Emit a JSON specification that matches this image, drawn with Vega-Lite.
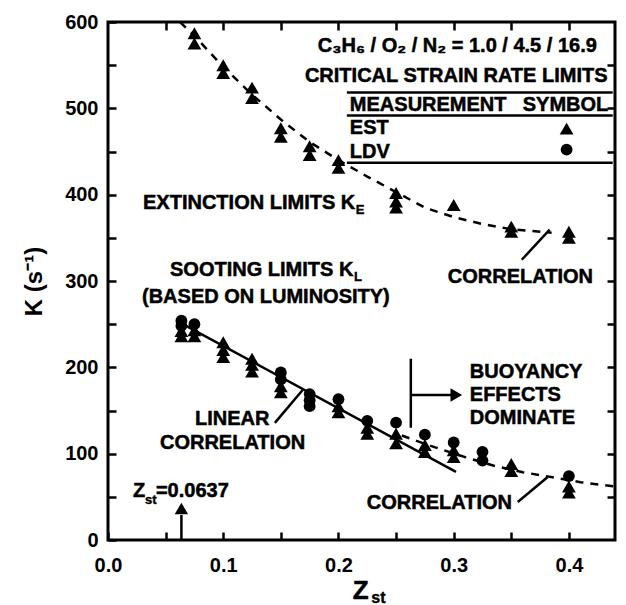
{
  "$schema": "https://vega.github.io/schema/vega-lite/v6.json",
  "width": 507,
  "height": 518,
  "autosize": {"type": "none"},
  "padding": {"left": 108, "top": 22, "right": 11, "bottom": 65},
  "background": "white",
  "config": {
    "view": {"stroke": "black", "strokeWidth": 3},
    "font": "Liberation Sans",
    "axis": {
      "labelFont": "Liberation Sans", "labelFontWeight": "bold", "labelFontSize": 20, "labelColor": "black",
      "domain": false, "grid": false, "tickColor": "black", "tickWidth": 2.5, "tickSize": -8,
      "titleFont": "Liberation Sans", "titleFontWeight": "bold", "titleColor": "black",
      "labelFlush": false, "labelOverlap": false
    },
    "text": {"font": "Liberation Sans", "fontWeight": "bold", "fontSize": 20, "color": "black"}
  },
  "datasets": {
    "markers": [
      {"z": 0.075, "K": 587, "meas": "EST"}, {"z": 0.075, "K": 575, "meas": "EST"},
      {"z": 0.1, "K": 550, "meas": "EST"}, {"z": 0.1, "K": 541, "meas": "EST"},
      {"z": 0.125, "K": 524, "meas": "EST"}, {"z": 0.125, "K": 512, "meas": "EST"},
      {"z": 0.15, "K": 477, "meas": "EST"}, {"z": 0.15, "K": 467, "meas": "EST"},
      {"z": 0.175, "K": 456, "meas": "EST"}, {"z": 0.175, "K": 446, "meas": "EST"},
      {"z": 0.2, "K": 440, "meas": "EST"}, {"z": 0.2, "K": 431, "meas": "EST"},
      {"z": 0.25, "K": 402, "meas": "EST"}, {"z": 0.25, "K": 392, "meas": "EST"}, {"z": 0.25, "K": 385, "meas": "EST"},
      {"z": 0.3, "K": 388, "meas": "EST"},
      {"z": 0.35, "K": 363, "meas": "EST"}, {"z": 0.35, "K": 357, "meas": "EST"},
      {"z": 0.4, "K": 357, "meas": "EST"}, {"z": 0.4, "K": 350, "meas": "EST"},
      {"z": 0.0637, "K": 254, "meas": "LDV"}, {"z": 0.0637, "K": 248, "meas": "LDV"}, {"z": 0.0637, "K": 242, "meas": "EST"}, {"z": 0.0637, "K": 236, "meas": "EST"},
      {"z": 0.075, "K": 250, "meas": "LDV"}, {"z": 0.075, "K": 243, "meas": "EST"}, {"z": 0.075, "K": 236, "meas": "EST"},
      {"z": 0.1, "K": 229, "meas": "EST"}, {"z": 0.1, "K": 220, "meas": "EST"}, {"z": 0.1, "K": 212, "meas": "EST"},
      {"z": 0.125, "K": 210, "meas": "EST"}, {"z": 0.125, "K": 203, "meas": "EST"}, {"z": 0.125, "K": 195, "meas": "EST"},
      {"z": 0.15, "K": 194, "meas": "LDV"}, {"z": 0.15, "K": 186, "meas": "LDV"}, {"z": 0.15, "K": 178, "meas": "EST"}, {"z": 0.15, "K": 171, "meas": "EST"},
      {"z": 0.175, "K": 169, "meas": "LDV"}, {"z": 0.175, "K": 162, "meas": "LDV"}, {"z": 0.175, "K": 155, "meas": "LDV"},
      {"z": 0.2, "K": 163, "meas": "LDV"}, {"z": 0.2, "K": 155, "meas": "EST"}, {"z": 0.2, "K": 148, "meas": "EST"},
      {"z": 0.225, "K": 138, "meas": "LDV"}, {"z": 0.225, "K": 130, "meas": "EST"}, {"z": 0.225, "K": 123, "meas": "EST"},
      {"z": 0.25, "K": 136, "meas": "LDV"}, {"z": 0.25, "K": 123, "meas": "EST"}, {"z": 0.25, "K": 112, "meas": "EST"},
      {"z": 0.275, "K": 122, "meas": "LDV"}, {"z": 0.275, "K": 110, "meas": "EST"}, {"z": 0.275, "K": 102, "meas": "EST"},
      {"z": 0.3, "K": 113, "meas": "LDV"}, {"z": 0.3, "K": 104, "meas": "EST"}, {"z": 0.3, "K": 96, "meas": "EST"},
      {"z": 0.325, "K": 102, "meas": "LDV"}, {"z": 0.325, "K": 92, "meas": "LDV"},
      {"z": 0.35, "K": 88, "meas": "EST"}, {"z": 0.35, "K": 80, "meas": "EST"},
      {"z": 0.4, "K": 74, "meas": "LDV"}, {"z": 0.4, "K": 62, "meas": "EST"}, {"z": 0.4, "K": 55, "meas": "EST"},
      {"z": 0.398, "K": 476.5, "meas": "EST"}, {"z": 0.398, "K": 452.2, "meas": "LDV"}
    ],
    "curveE": [
      {"z": 0.0625, "K": 600}, {"z": 0.075, "K": 584}, {"z": 0.1, "K": 548}, {"z": 0.125, "K": 516},
      {"z": 0.15, "K": 487}, {"z": 0.175, "K": 461}, {"z": 0.2, "K": 440}, {"z": 0.225, "K": 421},
      {"z": 0.25, "K": 403}, {"z": 0.275, "K": 385}, {"z": 0.3, "K": 374}, {"z": 0.325, "K": 366},
      {"z": 0.35, "K": 360}, {"z": 0.385, "K": 356}
    ],
    "curveS": [
      {"z": 0.255, "K": 121}, {"z": 0.28, "K": 109}, {"z": 0.31, "K": 96}, {"z": 0.335, "K": 86},
      {"z": 0.36, "K": 78.5}, {"z": 0.38, "K": 74}, {"z": 0.41, "K": 67}, {"z": 0.44, "K": 62}
    ],
    "linear": [{"z": 0.0637, "K": 251}, {"z": 0.302, "K": 79}],
    "rules": [
      {"z": 0.1448, "K": 135.7, "z2": 0.1691, "K2": 174},
      {"z": 0.3591, "K": 324.6, "z2": 0.3833, "K2": 359.4},
      {"z": 0.3556, "K": 44, "z2": 0.3816, "K2": 73},
      {"z": 0.2628, "K": 210, "z2": 0.2628, "K2": 130},
      {"z": 0.2628, "K": 168, "z2": 0.298, "K2": 168},
      {"z": 0.0637, "K": 0, "z2": 0.0637, "K2": 29},
      {"z": 0.2073, "K": 518.3, "z2": 0.438, "K2": 518.3},
      {"z": 0.2073, "K": 491.6, "z2": 0.438, "K2": 491.6},
      {"z": 0.2073, "K": 437.1, "z2": 0.438, "K2": 437.1}
    ],
    "labels": [
      {"z": 0.1821, "K": 572, "text": "C₃H₆ / O₂ / N₂ = 1.0 / 4.5 / 16.9"},
      {"z": 0.1709, "K": 537, "text": "CRITICAL STRAIN RATE LIMITS"},
      {"z": 0.2099, "K": 504.3, "text": "MEASUREMENT"},
      {"z": 0.3599, "K": 504.3, "text": "SYMBOL"},
      {"z": 0.2099, "K": 477.7, "text": "EST"},
      {"z": 0.2099, "K": 449.9, "text": "LDV"},
      {"z": 0.0304, "K": 390.7, "text": "EXTINCTION LIMITS K"},
      {"z": 0.0538, "K": 313, "text": "SOOTING LIMITS K"},
      {"z": 0.0295, "K": 281.7, "text": "(BASED ON LUMINOSITY)"},
      {"z": 0.0755, "K": 140.3, "text": "LINEAR"},
      {"z": 0.0451, "K": 112.5, "text": "CORRELATION"},
      {"z": 0.314, "K": 194.8, "text": "BUOYANCY"},
      {"z": 0.314, "K": 168.1, "text": "EFFECTS"},
      {"z": 0.314, "K": 141.4, "text": "DOMINATE"},
      {"z": 0.2949, "K": 304.9, "text": "CORRELATION"},
      {"z": 0.2246, "K": 42.9, "text": "CORRELATION"},
      {"z": 0.0217, "K": 56.8, "text": "Z"},
      {"z": 0.0416, "K": 56.8, "text": "=0.0637"}
    ],
    "subs": [
      {"z": 0.2151, "K": 382.6, "text": "E"},
      {"z": 0.2134, "K": 304.9, "text": "L"},
      {"z": 0.0321, "K": 46.4, "text": "st"}
    ],
    "xtitle": [{"z": 0.2125, "K": -59, "text": "Z"}],
    "xtitleSub": [{"z": 0.2285, "K": -67, "text": "st"}],
    "arrowUp": [{"z": 0.0637, "K": 36.5}],
    "arrowRight": [{"z": 0.3023, "K": 168}]
  },
  "layer": [
    {
      "data": {"name": "curveE"},
      "mark": {"type": "line", "color": "black", "strokeWidth": 2.5, "strokeDash": [8, 7]},
      "encoding": {
        "x": {"field": "z", "type": "quantitative", "scale": {"domain": [0, 0.44], "nice": false, "zero": false},
          "axis": {"orient": "bottom", "title": null, "values": [0, 0.05, 0.1, 0.15, 0.2, 0.25, 0.3, 0.35, 0.4],
            "labelExpr": "round(datum.value*100) % 10 === 0 ? format(datum.value, '.1f') : ''", "labelPadding": 23}},
        "y": {"field": "K", "type": "quantitative", "scale": {"domain": [0, 600], "nice": false, "zero": false},
          "axis": {"orient": "left", "title": "K (s⁻¹)", "titleFontSize": 24, "titlePadding": 18,
            "values": [0, 50, 100, 150, 200, 250, 300, 350, 400, 450, 500, 550, 600],
            "labelExpr": "datum.value % 100 === 0 ? format(datum.value, 'd') : ''", "labelPadding": 18}}
      }
    },
    {
      "data": {"name": "curveS"},
      "mark": {"type": "line", "color": "black", "strokeWidth": 2.5, "strokeDash": [8, 7]},
      "encoding": {
        "x": {"field": "z", "type": "quantitative", "scale": {"domain": [0, 0.44], "nice": false, "zero": false},
          "axis": {"orient": "top", "title": null, "labels": false, "values": [0.05, 0.1, 0.15, 0.2, 0.25, 0.3, 0.35, 0.4]}},
        "y": {"field": "K", "type": "quantitative", "scale": {"domain": [0, 600], "nice": false, "zero": false},
          "axis": {"orient": "right", "title": null, "labels": false, "values": [50, 100, 150, 200, 250, 300, 350, 400, 450, 500, 550]}}
      }
    },
    {
      "data": {"name": "linear"},
      "mark": {"type": "line", "color": "black", "strokeWidth": 2.5},
      "encoding": {
        "x": {"field": "z", "type": "quantitative", "scale": {"domain": [0, 0.44], "nice": false, "zero": false}, "axis": null},
        "y": {"field": "K", "type": "quantitative", "scale": {"domain": [0, 600], "nice": false, "zero": false}, "axis": null}
      }
    },
    {
      "data": {"name": "rules"},
      "mark": {"type": "rule", "color": "black", "strokeWidth": 2.5},
      "encoding": {
        "x": {"field": "z", "type": "quantitative", "scale": {"domain": [0, 0.44], "nice": false, "zero": false}, "axis": null},
        "y": {"field": "K", "type": "quantitative", "scale": {"domain": [0, 600], "nice": false, "zero": false}, "axis": null},
        "x2": {"field": "z2"},
        "y2": {"field": "K2"}
      }
    },
    {
      "data": {"name": "markers"},
      "mark": {"type": "point", "filled": true, "color": "black", "opacity": 1},
      "encoding": {
        "x": {"field": "z", "type": "quantitative", "scale": {"domain": [0, 0.44], "nice": false, "zero": false}, "axis": null},
        "y": {"field": "K", "type": "quantitative", "scale": {"domain": [0, 600], "nice": false, "zero": false}, "axis": null},
        "shape": {"field": "meas", "type": "nominal", "scale": {"domain": ["EST", "LDV"], "range": ["triangle-up", "circle"]}, "legend": null},
        "size": {"field": "meas", "type": "nominal", "scale": {"domain": ["EST", "LDV"], "range": [190, 140]}, "legend": null}
      }
    },
    {
      "data": {"name": "arrowUp"},
      "mark": {"type": "point", "filled": true, "color": "black", "opacity": 1, "shape": "triangle-up", "size": 180},
      "encoding": {
        "x": {"field": "z", "type": "quantitative", "scale": {"domain": [0, 0.44], "nice": false, "zero": false}, "axis": null},
        "y": {"field": "K", "type": "quantitative", "scale": {"domain": [0, 600], "nice": false, "zero": false}, "axis": null}
      }
    },
    {
      "data": {"name": "arrowRight"},
      "mark": {"type": "point", "filled": true, "color": "black", "opacity": 1, "shape": "triangle-right", "size": 180},
      "encoding": {
        "x": {"field": "z", "type": "quantitative", "scale": {"domain": [0, 0.44], "nice": false, "zero": false}, "axis": null},
        "y": {"field": "K", "type": "quantitative", "scale": {"domain": [0, 600], "nice": false, "zero": false}, "axis": null}
      }
    },
    {
      "data": {"name": "labels"},
      "mark": {"type": "text", "align": "left", "baseline": "middle", "fontSize": 20, "fontWeight": "bold", "color": "black", "stroke": "black", "strokeWidth": 0.5},
      "encoding": {
        "x": {"field": "z", "type": "quantitative", "scale": {"domain": [0, 0.44], "nice": false, "zero": false}, "axis": null},
        "y": {"field": "K", "type": "quantitative", "scale": {"domain": [0, 600], "nice": false, "zero": false}, "axis": null},
        "text": {"field": "text"}
      }
    },
    {
      "data": {"name": "subs"},
      "mark": {"type": "text", "align": "left", "baseline": "middle", "fontSize": 13, "fontWeight": "bold", "color": "black", "stroke": "black", "strokeWidth": 0.4},
      "encoding": {
        "x": {"field": "z", "type": "quantitative", "scale": {"domain": [0, 0.44], "nice": false, "zero": false}, "axis": null},
        "y": {"field": "K", "type": "quantitative", "scale": {"domain": [0, 600], "nice": false, "zero": false}, "axis": null},
        "text": {"field": "text"}
      }
    },
    {
      "data": {"name": "xtitle"},
      "mark": {"type": "text", "align": "left", "baseline": "middle", "fontSize": 26, "fontWeight": "bold", "color": "black", "stroke": "black", "strokeWidth": 0.5},
      "encoding": {
        "x": {"field": "z", "type": "quantitative", "scale": {"domain": [0, 0.44], "nice": false, "zero": false}, "axis": null},
        "y": {"field": "K", "type": "quantitative", "scale": {"domain": [0, 600], "nice": false, "zero": false}, "axis": null},
        "text": {"field": "text"}
      }
    },
    {
      "data": {"name": "xtitleSub"},
      "mark": {"type": "text", "align": "left", "baseline": "middle", "fontSize": 16, "fontWeight": "bold", "color": "black", "stroke": "black", "strokeWidth": 0.4},
      "encoding": {
        "x": {"field": "z", "type": "quantitative", "scale": {"domain": [0, 0.44], "nice": false, "zero": false}, "axis": null},
        "y": {"field": "K", "type": "quantitative", "scale": {"domain": [0, 600], "nice": false, "zero": false}, "axis": null},
        "text": {"field": "text"}
      }
    }
  ],
  "resolve": {"axis": {"x": "independent", "y": "independent"}}
}
